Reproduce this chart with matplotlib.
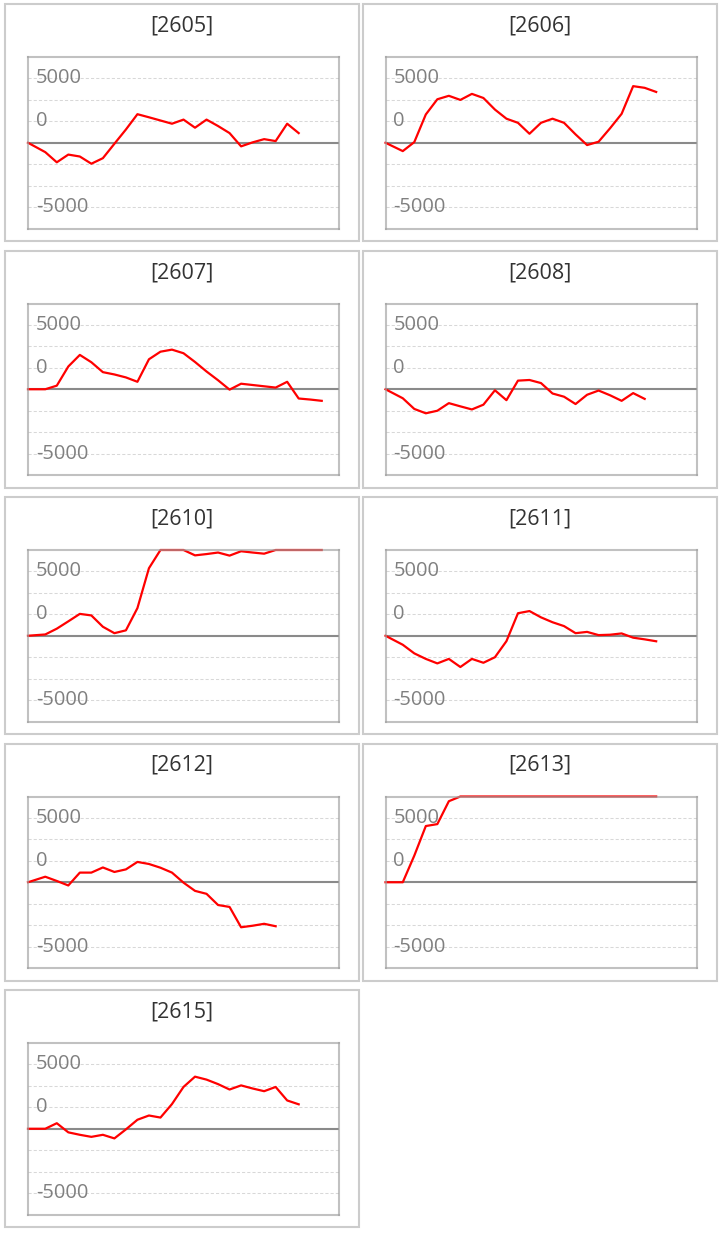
import numpy as np
import matplotlib
matplotlib.use('Agg')
import matplotlib.pyplot as plt
from matplotlib.patches import Rectangle
from matplotlib.transforms import blended_transform_factory

# ---- data (cumulative values per code) ----
codes = ['2605', '2606', '2607', '2608', '2610', '2611', '2612', '2613', '2615']

s2605 = [0, -730, -1520, -920, -1070, -1630, -1200, -80, 1030, 2220, 1980, 1730,
         1480, 1800, 1170, 1800, 1300, 750, -280, 30, 280, 130, 1480, 750]
s2606 = [0, -650, 50, 2200, 3380, 3650, 3330, 3800, 3480, 2580, 1870, 1550,
         700, 1550, 1870, 1550, 650, -180, 80, 1130, 2250, 4400, 4270, 3950]
s2607 = [0, 0, 280, 1770, 2670, 2100, 1330, 1150, 920, 580, 2330, 2920, 3080,
         2800, 2120, 1380, 700, -30, 430, 330, 230, 130, 580, -720, -800, -900]
s2608 = [0, -700, -1530, -1870, -1670, -1080, -1330, -1570, -1200, -80, -850,
         670, 720, 480, -330, -580, -1150, -430, -100, -470, -900, -300, -750]
s2610 = [0, 100, 550, 1120, 1700, 1580, 700, 200, 420, 2150, 5250, 6700, 6700,
         6700, 6250, 6350, 6470, 6230, 6570, 6470, 6380, 6700, 6700, 6700, 6700, 6700]
s2611 = [0, -700, -1370, -1800, -2150, -1800, -2430, -1800, -2100, -1670, -420,
         1750, 1920, 1430, 1050, 750, 200, 300, 50, 80, 180, -150, -280, -430]
s2612 = [0, 430, 100, -250, 750, 750, 1150, 800, 1000, 1580, 1420, 1130, 750,
         -30, -670, -900, -1770, -1920, -3500, -3380, -3230, -3420]
s2613 = [0, 0, 2070, 4370, 4520, 6300] + [6700] * 18
s2615 = [0, 0, 430, -280, -470, -630, -470, -750, -50, 700, 1030, 870, 1920,
         3250, 4050, 3820, 3470, 3050, 3370, 3130, 2920, 3250, 2200, 1900]

series = [s2605, s2606, s2607, s2608, s2610, s2611, s2612, s2613, s2615]

tick_values = [5000, 5000 / 3, -5000]
tick_labels = ['5000', '0', '-5000']

# ---- layout ----
W, H = 723, 1233
GRID = 5000 / 3
YMAX = 4 * GRID
NSLOTS = 27
ROW_PITCH = 246.5

fig = plt.figure(figsize=(W / 100, H / 100), dpi=100)
fig.patch.set_facecolor('white')

for i, (code, vals) in enumerate(zip(codes, series)):
    r, c = divmod(i, 2)
    bx = 5 if c == 0 else 363
    by = 4 + r * ROW_PITCH
    bw, bh = 354, 237
    fig.add_artist(Rectangle((bx / W, 1 - (by + bh) / H), bw / W, bh / H,
                             transform=fig.transFigure, fill=False,
                             edgecolor='#cccccc', lw=1.5))
    fig.text((bx + bw / 2) / W, 1 - (by + 22) / H, f'[{code}]', ha='center',
             va='center', fontsize=15.5, color='#333333', family='Open Sans')

    ax_left = 28 if c == 0 else 385.5
    ax_top = 57 + r * ROW_PITCH
    aw, ah = 311, 171.5
    ax = fig.add_axes([ax_left / W, 1 - (ax_top + ah) / H, aw / W, ah / H])
    ax.set_xlim(0, NSLOTS)
    ax.set_ylim(-YMAX, YMAX)
    ax.set_xticks([])
    ax.set_yticks([])

    for g in [-3, -2, -1, 1, 2, 3]:
        ax.axhline(g * GRID, color='#d8d8d8', lw=0.75, ls=(0, (3, 2)), zorder=1)
    ax.axhline(0, color='#8a8a8a', lw=1.5, zorder=2)

    n = len(vals)
    x = np.concatenate([[0.0], np.arange(1, n) + 0.5])
    y = np.clip(np.array(vals, dtype=float), -YMAX, YMAX)
    ax.plot(x, y, color='#ff0000', lw=1.6, zorder=3, clip_on=False)

    tr = blended_transform_factory(ax.transAxes, ax.transData)
    for tv, tl in zip(tick_values, tick_labels):
        ax.text(8 / aw, tv, tl, transform=tr, ha='left', va='center',
                fontsize=14.5, color='#808080', family='Open Sans', zorder=2.5)

    for sp in ax.spines.values():
        sp.set_color('#a0a0a0')
        sp.set_alpha(0.65)
        sp.set_linewidth(1.5)
        sp.set_zorder(4)

fig.savefig('out.png', dpi=100, facecolor='white')
